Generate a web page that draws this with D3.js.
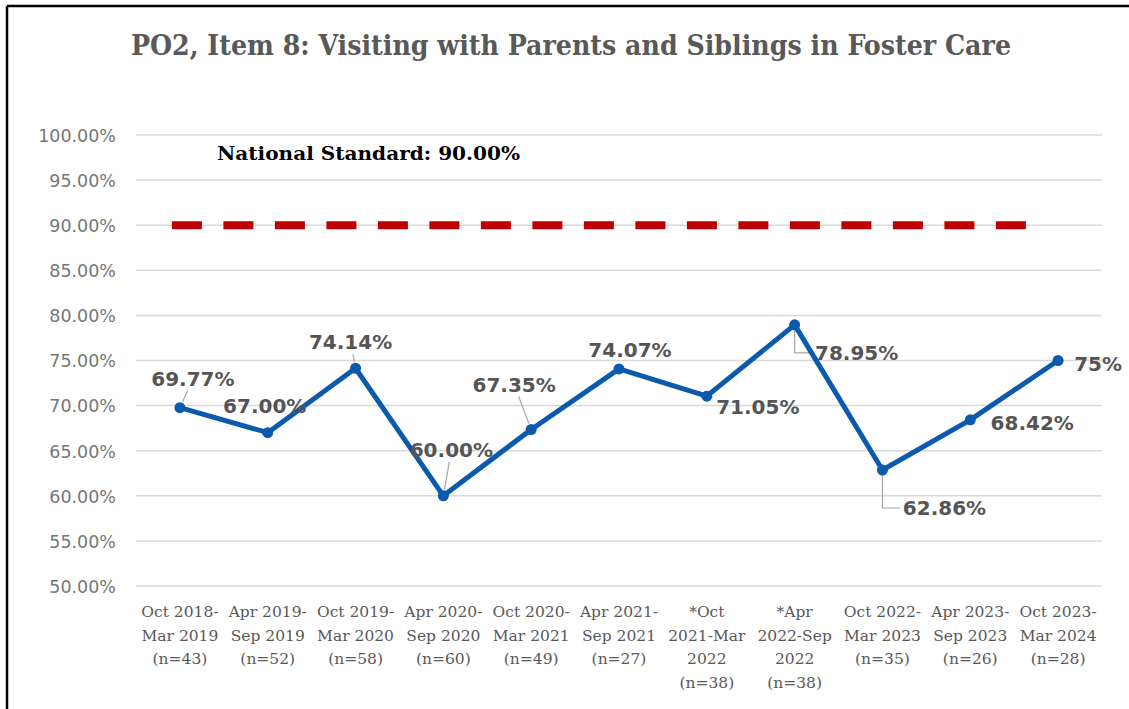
<!DOCTYPE html>
<html>
<head>
<meta charset="utf-8">
<script src="https://cdn.jsdelivr.net/npm/d3@7"></script>
<style>
    body { margin: 0; background: #ffffff; }
    svg { display: block; }
</style>
</head>
<body>
<svg id="chart" width="1129" height="709"></svg>
<script>
// chart data
const categories = [
    'Oct 2018-\nMar 2019\n(n=43)',
    'Apr 2019-\nSep 2019\n(n=52)',
    'Oct 2019-\nMar 2020\n(n=58)',
    'Apr 2020-\nSep 2020\n(n=60)',
    'Oct 2020-\nMar 2021\n(n=49)',
    'Apr 2021-\nSep 2021\n(n=27)',
    '*Oct\n2021-Mar\n2022\n(n=38)',
    '*Apr\n2022-Sep\n2022\n(n=38)',
    'Oct 2022-\nMar 2023\n(n=35)',
    'Apr 2023-\nSep 2023\n(n=26)',
    'Oct 2023-\nMar 2024\n(n=28)'
];
const values = [69.77, 67.00, 74.14, 60.00, 67.35, 74.07, 71.05, 78.95, 62.86, 68.42, 75];
const valueLabels = ['69.77%', '67.00%', '74.14%', '60.00%', '67.35%', '74.07%',
                     '71.05%', '78.95%', '62.86%', '68.42%', '75%'];
const nationalStandard = 90;
const yTicks = [50, 55, 60, 65, 70, 75, 80, 85, 90, 95, 100];

// label placement (offset of label centre from its point) and leader style
const labelOffsets = [[13, -29], [-3, -27], [-5, -26], [8, -46], [-17, -45], [11, -19],
                      [51, 11], [62, 28], [62, 38], [62, 3], [40, 3]];
const leaderTypes = ['line', 'none', 'line', 'line', 'line', 'none',
                     'none', 'elbow', 'elbow', 'none', 'none'];

const svg = d3.select('#chart');

// frame
svg.append('line').attr('x1', 7).attr('y1', 6).attr('x2', 1129).attr('y2', 6)
    .attr('stroke', '#000').attr('stroke-width', 2.5);
svg.append('line').attr('x1', 7).attr('y1', 6).attr('x2', 7).attr('y2', 709)
    .attr('stroke', '#000').attr('stroke-width', 2.5);

// title
svg.append('text')
    .attr('x', 571).attr('y', 55)
    .attr('text-anchor', 'middle')
    .attr('font-family', '"DejaVu Serif Condensed", "DejaVu Serif", serif')
    .attr('font-weight', 'bold')
    .attr('font-size', 28)
    .attr('fill', '#595959')
    .attr('textLength', 880)
    .attr('lengthAdjust', 'spacingAndGlyphs')
    .text('PO2, Item 8: Visiting with Parents and Siblings in Foster Care');

const plotLeft = 136, plotRight = 1102, plotTop = 135, plotBottom = 586;

const x = d3.scaleBand().domain(categories).range([plotLeft, plotRight]).padding(0);
const cx = (d) => x(d) + x.bandwidth() / 2;
const y = d3.scaleLinear().domain([50, 100]).range([plotBottom, plotTop]);

// grid lines
svg.append('g')
    .selectAll('line.grid')
    .data(yTicks)
    .enter()
    .append('line')
    .attr('class', 'grid')
    .attr('x1', plotLeft).attr('x2', plotRight)
    .attr('y1', (d) => y(d)).attr('y2', (d) => y(d))
    .attr('stroke', '#d9d9d9')
    .attr('stroke-width', 1.5);

// y axis
const yAxis = svg.append('g')
    .attr('transform', 'translate(' + (plotLeft - 20) + ',0)')
    .call(d3.axisLeft(y).tickValues(yTicks).tickSize(0).tickPadding(0)
        .tickFormat((d) => d.toFixed(2) + '%'));
yAxis.select('.domain').remove();
yAxis.selectAll('text')
    .attr('font-family', '"DejaVu Sans", Verdana, sans-serif')
    .attr('font-size', 17.5)
    .attr('fill', '#767676')
    .attr('dy', '0.36em');

// x axis labels
const xLabels = svg.append('g')
    .selectAll('text.xlabel')
    .data(categories)
    .enter()
    .append('text')
    .attr('class', 'xlabel')
    .attr('text-anchor', 'middle')
    .attr('font-family', '"DejaVu Serif", serif')
    .attr('font-size', 15.5)
    .attr('fill', '#595959');
xLabels.each(function (d) {
    let t = d3.select(this);
    d.split('\n').forEach((line, i) => {
        t.append('tspan')
            .attr('x', cx(d))
            .attr('y', 617 + i * 23.5)
            .text(line);
    });
});

// national standard dashed line
svg.append('line')
    .attr('x1', cx(categories[0]) - 8)
    .attr('x2', cx(categories[categories.length - 1]) - 30)
    .attr('y1', y(nationalStandard)).attr('y2', y(nationalStandard))
    .attr('stroke', '#c00000')
    .attr('stroke-width', 8)
    .attr('stroke-dasharray', '30 21.5');

svg.append('text')
    .attr('x', 217).attr('y', 160)
    .attr('font-family', '"DejaVu Serif", serif')
    .attr('font-weight', 'bold')
    .attr('font-size', 18)
    .attr('fill', '#000')
    .attr('textLength', 303)
    .attr('lengthAdjust', 'spacingAndGlyphs')
    .text('National Standard: ' + nationalStandard.toFixed(2) + '%');

// leader lines
const pts = categories.map((c, i) => ({ x: cx(c), y: y(values[i]), i: i }));
const leaders = svg.append('g');
pts.forEach((p) => {
    let type = leaderTypes[p.i];
    let off = labelOffsets[p.i];
    let lx = p.x + off[0], ly = p.y + off[1];
    if (type == 'line') {
        let ty = ly + 12;
        let t0 = 6 / Math.abs(ly - p.y);
        let t1 = (ty - p.y) / (ly - p.y);
        leaders.append('line')
            .attr('x1', p.x + (lx - p.x) * t0)
            .attr('y1', p.y + (ly - p.y) * t0)
            .attr('x2', p.x + (lx - p.x) * t1)
            .attr('y2', ty)
            .attr('stroke', '#a6a6a6').attr('stroke-width', 1.2);
    } else if (type == 'elbow') {
        leaders.append('path')
            .attr('d', 'M' + p.x + ',' + (p.y + 4) + 'V' + ly + 'H' + (lx - 44))
            .attr('fill', 'none')
            .attr('stroke', '#a6a6a6').attr('stroke-width', 1.2);
    }
});

// series line
svg.append('path')
    .datum(pts)
    .attr('d', d3.line().x((d) => d.x).y((d) => d.y))
    .attr('fill', 'none')
    .attr('stroke', '#0b5aad')
    .attr('stroke-width', 5)
    .attr('stroke-linejoin', 'round');

svg.append('g')
    .selectAll('circle')
    .data(pts)
    .enter()
    .append('circle')
    .attr('cx', (d) => d.x).attr('cy', (d) => d.y)
    .attr('r', 5.5)
    .attr('fill', '#0b5aad');

// data labels
svg.append('g')
    .selectAll('text.vlabel')
    .data(pts)
    .enter()
    .append('text')
    .attr('class', 'vlabel')
    .attr('x', (d) => d.x + labelOffsets[d.i][0])
    .attr('y', (d) => d.y + labelOffsets[d.i][1])
    .attr('dy', '0.36em')
    .attr('text-anchor', 'middle')
    .attr('font-family', '"DejaVu Sans", Verdana, sans-serif')
    .attr('font-weight', 'bold')
    .attr('font-size', 20)
    .attr('fill', '#555555')
    .text((d) => valueLabels[d.i]);
</script>
</body>
</html>
